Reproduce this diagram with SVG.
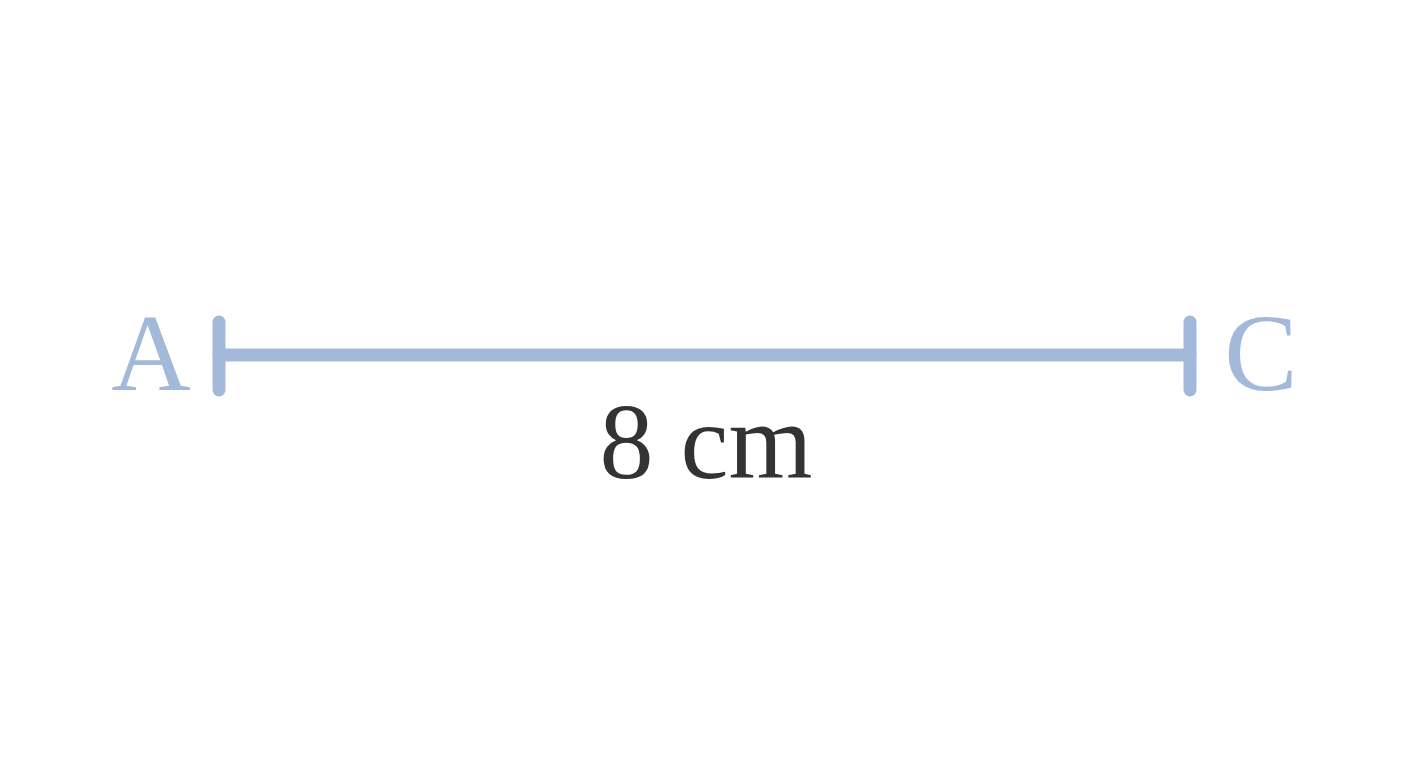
<svg xmlns="http://www.w3.org/2000/svg" width="1408" height="768" viewBox="0 0 1408 768">
<style>
.seg{stroke:#a3b9d9;stroke-width:13;stroke-linecap:round;fill:none}
.pt{font-family:"Liberation Serif","Times New Roman",serif;font-size:110px;fill:#a3b9d9}
.len{font-family:"Liberation Serif","Times New Roman",serif;font-size:108px;fill:#333333}
</style>
<rect width="1408" height="768" fill="#ffffff"/>
<g id="connectors">
<line class="seg" x1="219" y1="355" x2="1190" y2="355"/>
<line class="seg" x1="219" y1="322" x2="219" y2="390"/>
<line class="seg" x1="1190" y1="322" x2="1190" y2="390"/>
</g>
<g id="A"><text class="pt" x="151" y="390" text-anchor="middle">A</text></g>
<g id="C"><text class="pt" x="1261" y="390" text-anchor="middle">C</text></g>
<g id="length"><text class="len" x="706" y="478" text-anchor="middle">8 cm</text></g>
</svg>
